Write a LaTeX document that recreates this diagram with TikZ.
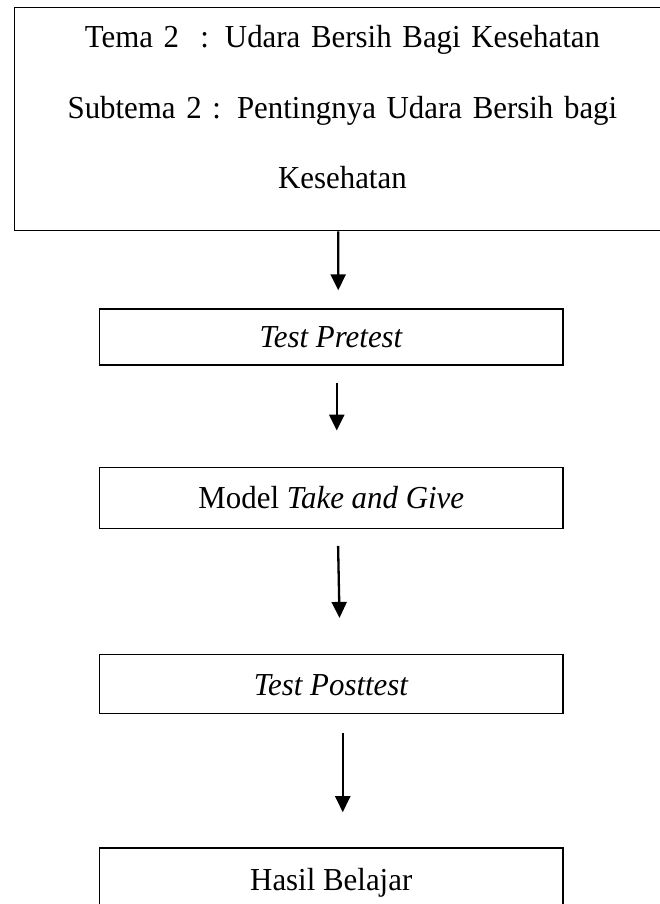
\documentclass[tikz,border=0pt]{standalone}
\usepackage{fontspec}
\setmainfont{Liberation Serif}[FakeStretch=0.965]
\usepackage{tikz}
\usetikzlibrary{arrows.meta,positioning}
\tikzset{
    kotakDasar/.style={
        rectangle,
        draw,
        line width=1.3pt,
        align=center,
        inner sep=0pt
    },
    kotak/.style={
        kotakDasar,
        minimum width=463.7pt,
        minimum height=58pt,
        text height=22pt,
        text depth=0pt,
        font=\fontsize{32pt}{38pt}\selectfont
    },
    kotakUtama/.style={
        kotakDasar,
        text width=620pt,
        minimum width=656.5pt,
        minimum height=223pt,
        font=\fontsize{32pt}{70.5pt}\selectfont
    },
    panah/.style={-{Triangle[length=16pt,width=15pt]}, line width=2.3pt}
}

\begin{document}
\begin{tikzpicture}
        \useasboundingbox (0,0) rectangle (659pt,-904pt);

        \node[kotakUtama, anchor=north west] (tema) at (13.5pt,-7pt)
            {Tema 2\ \ : Udara Bersih Bagi Kesehatan\\Subtema 2 : Pentingnya Udara Bersih bagi\\Kesehatan\rule[-24pt]{0pt}{0pt}};
        \node[kotak, below=77pt of tema, xshift=-11.15pt, minimum height=56pt] (pretest)
            {\textit{Test Pretest}};
        \node[kotak, below=101pt of pretest, minimum height=61pt] (model)
            {Model \textit{Take and Give}};
        \node[kotak, below=125pt of model, minimum height=59pt] (posttest)
            {\textit{Test Posttest}};
        \node[kotak, below=133pt of posttest, minimum height=64pt] (hasil)
            {Hasil Belajar};

        \draw[panah, shorten >=18pt] ([xshift=-4.25pt]tema.south) -- ([xshift=7pt]pretest.north);
        \draw[panah, shorten <=17pt, shorten >=36pt] ([xshift=5.5pt]pretest.south) -- ([xshift=5.5pt]model.north);
        \draw[panah, shorten <=17pt, shorten >=36pt] ([xshift=6.5pt]model.south) -- ([xshift=9pt]posttest.north);
        \draw[panah, shorten <=19pt, shorten >=35pt] ([xshift=11.5pt]posttest.south) -- ([xshift=11.5pt]hasil.north);
    \end{tikzpicture}
\end{document}
